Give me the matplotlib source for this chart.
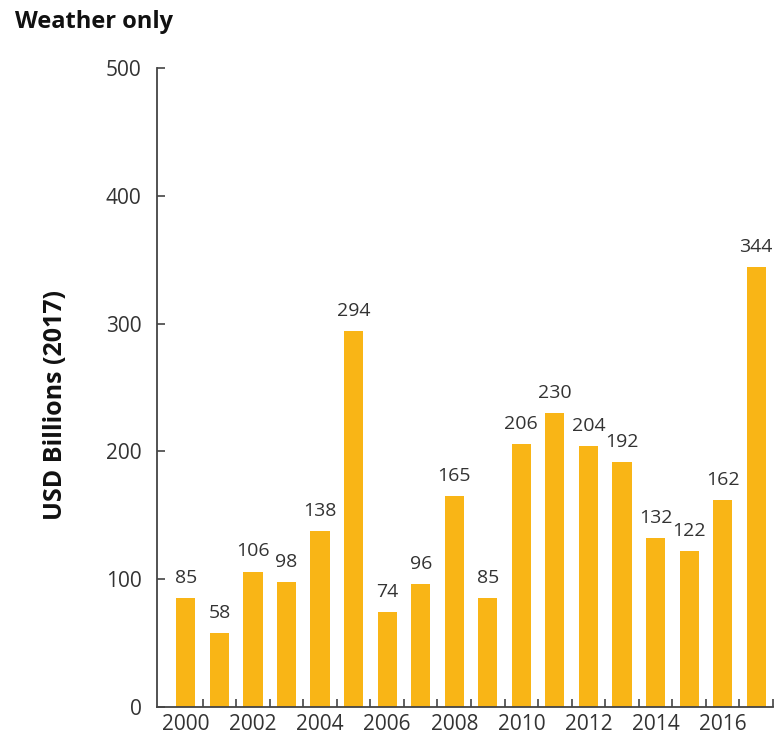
import matplotlib
matplotlib.use("Agg")
import matplotlib.pyplot as plt
from matplotlib.ticker import FixedLocator

plt.rcParams['font.family'] = ['Open Sans', 'DejaVu Sans']

years = list(range(2000, 2018))
losses = [85, 58, 106, 98, 138, 294, 74, 96, 165, 85, 206, 230, 204, 192, 132, 122, 162, 344]
year_labels = [2000, 2002, 2004, 2006, 2008, 2010, 2012, 2014, 2016]
y_ticks = [0, 100, 200, 300, 400, 500]

bar_color = "#F9B516"
text_color = "#333333"
axis_color = "#444444"

W, H = 778, 740
fig = plt.figure(figsize=(W / 100, H / 100), dpi=100)
ax = fig.add_axes([157 / W, 1 - 707 / H, (773 - 157) / W, (707 - 68) / H])

ax.bar(years, losses, width=0.57, color=bar_color, zorder=2)
for x, v in zip(years, losses):
    ax.annotate(str(v), (x, v), xytext=(0, 8), textcoords="offset points",
                ha="center", va="bottom", fontsize=14, color=text_color)

ax.set_xlim(years[0] - 0.86, years[-1] + 0.5)
ax.set_ylim(0, 500)

for side in ("top", "right"):
    ax.spines[side].set_visible(False)
for side in ("left", "bottom"):
    ax.spines[side].set_color(axis_color)
    ax.spines[side].set_linewidth(1.3)

ax.set_yticks(y_ticks)
ax.tick_params(axis="y", direction="in", length=6, width=1.2, color=axis_color,
               labelsize=15, labelcolor=text_color, pad=11)

ax.set_xticks(year_labels)
ax.set_xticklabels([str(y) for y in year_labels])
ax.tick_params(axis="x", which="major", length=0, labelsize=15, labelcolor=text_color, pad=5)
ax.xaxis.set_minor_locator(FixedLocator([y + 0.5 for y in years]))
ax.tick_params(axis="x", which="minor", direction="in", length=6, width=1.2, color=axis_color)

fig.text(56 / W, 1 - 405 / H, "USD Billions (2017)", rotation=90, fontsize=18,
         fontweight="bold", color="#111111", ha="center", va="center")
fig.text(15 / W, 1 - 22 / H, "Weather only", fontsize=17, fontweight="bold",
         color="#111111", ha="left", va="center")

fig.savefig("out.png", dpi=100)
